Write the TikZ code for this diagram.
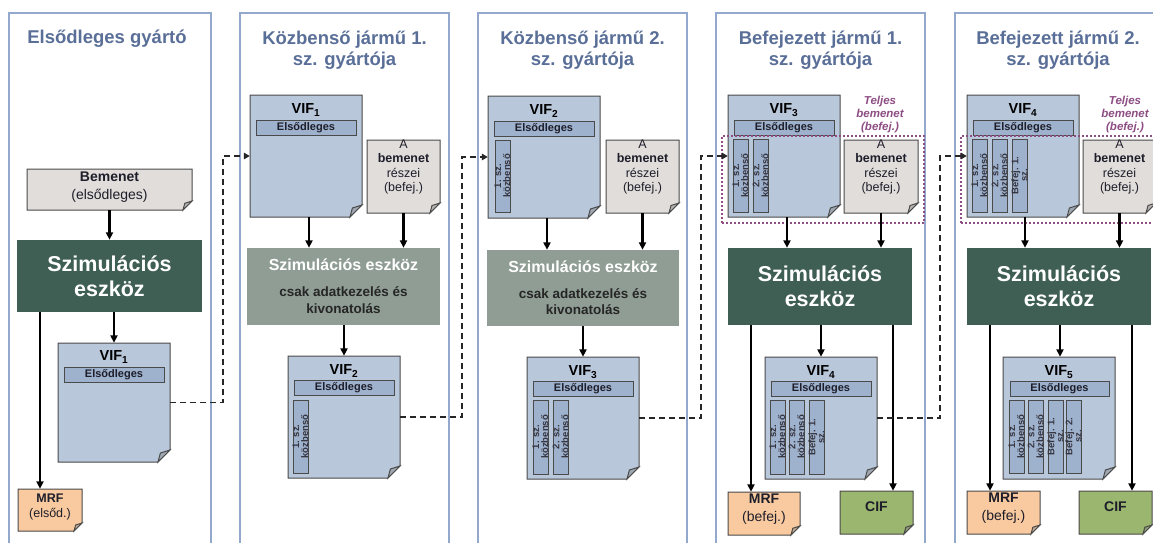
\documentclass[tikz,border=0pt]{standalone}
\usepackage{fontspec}
\setmainfont{Liberation Sans}
\usetikzlibrary{arrows.meta,calc}
\definecolor{framecol}{HTML}{94A8CE}
\definecolor{titlecol}{HTML}{5A6F98}
\definecolor{simdark}{HTML}{3F5F54}
\definecolor{simlight}{HTML}{8F9D94}
\definecolor{vifblue}{HTML}{B9C7DB}
\definecolor{barblue}{HTML}{9EB1CD}
\definecolor{bemgray}{HTML}{E1DDDB}
\definecolor{mrfcol}{HTML}{F9CA9F}
\definecolor{cifcol}{HTML}{9BB66E}
\definecolor{docgray}{HTML}{4A4A4A}
\definecolor{purp}{HTML}{8E4E84}
\definecolor{darktext}{HTML}{1E1E2A}

% document shape with folded corner: name, x1, y1, x2, y2, fill, fold
\newcommand\docnode[7]{%
  \filldraw[docline,fill=#6] (#2,#3) -- (#4,#3) -- (#4,#5-#7) -- (#4-#7,#5) -- (#2,#5) -- cycle;
  \filldraw[docline,fill=#6!55!gray] (#4,#5-#7) -- (#4-0.8*#7,#5-0.75*#7) -- (#4-#7,#5) -- cycle;
  \node[inner sep=0pt,minimum width={(#4-#2)*1pt},minimum height={(#5-#3)*1pt}] (#1) at ({(#2+#4)/2},{(#3+#5)/2}) {};
}
% horizontal "Elsodleges" bar: name, x1, y1, x2
\newcommand\hbarnode[4]{%
  \node[hbarbox,minimum width={(#4-#2)*1pt}] (#1) at ({(#2+#4)/2},{#3+7.5}) {Elsődleges};
}
% vertical bar: name, x1, y1, y2, text
\newcommand\vbarnode[5]{%
  \node[vbarbox,minimum height={(#4-#3)*1pt}] (#1) at ({#2+7.5},{(#3+#4)/2}) {};
  \node[vtext] (#1t) at (#1.center) {#5};
}

\begin{document}
\begin{tikzpicture}[x=1pt,y=-1pt,
  docline/.style={draw=docgray,line width=1pt},
  frame/.style={draw=framecol,line width=1.2pt},
  title/.style={text=titlecol,font=\fontsize{18.5}{21}\selectfont\bfseries,align=center},
  simbig/.style={fill=simdark,text=white,font=\fontsize{21.5}{25}\selectfont\bfseries,align=center,inner sep=0pt},
  simsmall/.style={fill=simlight,inner sep=0pt},
  hbarbox/.style={fill=barblue,draw=docgray,line width=0.9pt,minimum height=15pt,inner sep=0pt,text=darktext,font=\fontsize{11}{12}\selectfont\bfseries},
  vbarbox/.style={fill=barblue,draw=docgray,line width=0.9pt,minimum width=15pt,inner sep=0pt},
  vtext/.style={rotate=90,align=center,inner sep=0pt,text=darktext!90,font=\fontsize{9.5}{9}\selectfont\bfseries},
  viflab/.style={font=\fontsize{14.5}{16}\selectfont\bfseries,text=black},
  doctext/.style={align=center,font=\fontsize{12.5}{14.5}\selectfont,text=darktext},
  arr/.style={line width=2.3pt,-{Triangle[length=7.5pt,width=7pt]}},
  dashconn/.style={line width=1.9pt,draw=black!85,dash pattern=on 6pt off 4pt,-{Triangle[length=6pt,width=6.5pt]}},
  grp/.style={draw=purp,line width=2.4pt,dash pattern=on 2pt off 2pt,inner sep=0pt},
  grptext/.style={text=purp,align=center,font=\fontsize{11.5}{13}\selectfont\bfseries\itshape}
]
\useasboundingbox (0,0) rectangle (1153,542);
\fill[white] (0,0) rectangle (1153,542);

% ---------- frames and titles ----------
\draw[frame] (9,13) rectangle (211,560);
\draw[frame] (240,13) rectangle (449,560);
\draw[frame] (478,13) rectangle (687,560);
\draw[frame] (716,13) rectangle (925,560);
\draw[frame] (955,13) rectangle (1175,560);
\node[title] (t1) at (107,39) {Elsődleges gyártó};
\node[title] (t2) at (344.5,50) {Közbenső jármű 1.\\sz. gyártója};
\node[title] (t3) at (582.5,50) {Közbenső jármű 2.\\sz. gyártója};
\node[title] (t4) at (820.5,50) {Befejezett jármű 1.\\sz. gyártója};
\node[title] (t5) at (1058,50) {Befejezett jármű 2.\\sz. gyártója};

% ---------- column 1 ----------
\docnode{bem1}{27}{169}{192}{210}{bemgray}{9}
\node[doctext,font=\fontsize{14}{18}\selectfont] (bem1t) at (109.5,187) {\textbf{Bemenet}\\(elsődleges)};
\node[simbig,minimum width=185pt,minimum height=72pt] (sim1) at (109.5,276) {Szimulációs\\eszköz};
\docnode{vif1a}{58}{343}{170}{462}{vifblue}{12}
\node[viflab] (vif1al) at (114,357) {VIF\textsubscript{1}};
\hbarnode{vif1ab}{64}{367}{164}
\docnode{mrf1}{18}{489}{82}{531}{mrfcol}{8}
\node[doctext] (mrf1t) at (50,507) {\textbf{MRF}\\(elsőd.)};
\draw[arr] (bem1.south) -- (bem1.south |- sim1.north);
\draw[arr] (vif1a.north |- sim1.south) -- (vif1a.north);
\draw[arr] ([xshift=-10pt]mrf1.north |- sim1.south) -- ([xshift=-10pt]mrf1.north);

% ---------- column 2 ----------
\docnode{vif1b}{250}{95}{362}{217}{vifblue}{12}
\node[viflab] (vif1bl) at (306,110) {VIF\textsubscript{1}};
\hbarnode{vif1bb}{256}{120}{356}
\docnode{abem2}{367}{140}{440}{213}{bemgray}{10}
\node[doctext] (abem2t) at (403.5,167) {A\\\textbf{bemenet}\\részei\\(befej.)};
\node[simsmall,minimum width=193pt,minimum height=77pt] (sim2) at (343.5,286.5) {};
\node[text=white,font=\fontsize{16}{18}\selectfont\bfseries] (sim2a) at (343.5,265) {Szimulációs eszköz};
\node[align=center,text=black!85,font=\fontsize{13.5}{16.5}\selectfont\bfseries] (sim2b) at (343.5,300) {csak adatkezelés és\\kivonatolás};
\docnode{vif2b}{288}{356}{400}{478}{vifblue}{12}
\node[viflab] (vif2bl) at (344,371) {VIF\textsubscript{2}};
\hbarnode{vif2bb}{294}{380}{394}
\vbarnode{vif2bv1}{293}{400}{473}{1. sz.\\közbenső}
\draw[arr] ([xshift=3pt]vif1b.south) -- ([xshift=3pt]vif1b.south |- sim2.north);
\draw[arr] (abem2.south) -- (abem2.south |- sim2.north);
\draw[arr] (vif2b.north |- sim2.south) -- (vif2b.north);

% ---------- column 3 ----------
\docnode{vif2c}{488}{96}{600}{218}{vifblue}{12}
\node[viflab] (vif2cl) at (544,111) {VIF\textsubscript{2}};
\hbarnode{vif2cb}{494}{121}{594}
\vbarnode{vif2cv1}{495}{140}{212}{1. sz.\\közbenső}
\docnode{abem3}{606}{140}{679}{213}{bemgray}{10}
\node[doctext] (abem3t) at (642.5,167) {A\\\textbf{bemenet}\\részei\\(befej.)};
\node[simsmall,minimum width=192pt,minimum height=76pt] (sim3) at (583,288) {};
\node[text=white,font=\fontsize{16}{18}\selectfont\bfseries] (sim3a) at (583,266.5) {Szimulációs eszköz};
\node[align=center,text=black!85,font=\fontsize{13.5}{16.5}\selectfont\bfseries] (sim3b) at (583,301.5) {csak adatkezelés és\\kivonatolás};
\docnode{vif3c}{527}{357}{639}{479}{vifblue}{12}
\node[viflab] (vif3cl) at (583,372) {VIF\textsubscript{3}};
\hbarnode{vif3cb}{533}{381}{633}
\vbarnode{vif3cv1}{533}{400}{474}{1. sz.\\közbenső}
\vbarnode{vif3cv2}{553}{400}{474}{2. sz.\\közbenső}
\draw[arr] ([xshift=3pt]vif2c.south) -- ([xshift=3pt]vif2c.south |- sim3.north);
\draw[arr] (abem3.south) -- (abem3.south |- sim3.north);
\draw[arr] (vif3c.north |- sim3.south) -- (vif3c.north);

% ---------- column 4 ----------
\docnode{vif3d}{728}{95}{840}{217}{vifblue}{12}
\node[viflab] (vif3dl) at (784,110) {VIF\textsubscript{3}};
\hbarnode{vif3db}{734}{120}{834}
\vbarnode{vif3dv1}{733}{139}{212}{1. sz.\\közbenső}
\vbarnode{vif3dv2}{753}{139}{212}{2. sz.\\közbenső}
\docnode{abem4}{844}{140}{918}{213}{bemgray}{10}
\node[doctext] (abem4t) at (881,167) {A\\\textbf{bemenet}\\részei\\(befej.)};
\node[grp,minimum width=202pt,minimum height=87pt] (grp4) at (823,179.5) {};
\node[grptext] (grp4t) at (880,115) {Teljes\\bemenet\\(befej.)};
\node[simbig,minimum width=184pt,minimum height=77pt] (sim4) at (820,286.5) {Szimulációs\\eszköz};
\docnode{vif4d}{765}{357}{877}{479}{vifblue}{12}
\node[viflab] (vif4dl) at (821,372) {VIF\textsubscript{4}};
\hbarnode{vif4db}{771}{381}{871}
\vbarnode{vif4dv1}{770}{400}{474}{1. sz.\\közbenső}
\vbarnode{vif4dv2}{789}{400}{474}{2. sz.\\közbenső}
\vbarnode{vif4dv3}{809}{400}{474}{Befej. 1.\\sz.}
\docnode{mrf4}{728}{492}{800}{535}{mrfcol}{9}
\node[doctext,font=\fontsize{14}{18}\selectfont] (mrf4t) at (764,509) {\textbf{MRF}\\(befej.)};
\docnode{cif4}{840}{491}{913}{534}{cifcol}{9}
\node[font=\fontsize{14}{16}\selectfont\bfseries,text=darktext] (cif4t) at (876.5,507) {CIF};
\draw[arr] ([xshift=3pt]vif3d.south) -- ([xshift=3pt]vif3d.south |- sim4.north);
\draw[arr] (abem4.south) -- (abem4.south |- sim4.north);
\draw[arr] (vif4d.north |- sim4.south) -- (vif4d.north);
\draw[arr] ([xshift=-13pt]mrf4.north |- sim4.south) -- ([xshift=-13pt]mrf4.north);
\draw[arr] ([xshift=16.5pt]cif4.north |- sim4.south) -- ([xshift=16.5pt]cif4.north);

% ---------- column 5 ----------
\docnode{vif4e}{967}{95}{1079}{217}{vifblue}{12}
\node[viflab] (vif4el) at (1023,110) {VIF\textsubscript{4}};
\hbarnode{vif4eb}{973}{120}{1073}
\vbarnode{vif4ev1}{972}{139}{212}{1. sz.\\közbenső}
\vbarnode{vif4ev2}{992}{139}{212}{2. sz.\\közbenső}
\vbarnode{vif4ev3}{1012}{139}{212}{Befej. 1.\\sz.}
\docnode{abem5}{1083}{140}{1156}{213}{bemgray}{10}
\node[doctext] (abem5t) at (1119.5,167) {A\\\textbf{bemenet}\\részei\\(befej.)};
\node[grp,minimum width=204pt,minimum height=87pt] (grp5) at (1063,179.5) {};
\node[grptext] (grp5t) at (1125,115) {Teljes\\bemenet\\(befej.)};
\node[simbig,minimum width=184pt,minimum height=77pt] (sim5) at (1059,286.5) {Szimulációs\\eszköz};
\docnode{vif5e}{1003}{357}{1115}{479}{vifblue}{12}
\node[viflab] (vif5el) at (1059,372) {VIF\textsubscript{5}};
\hbarnode{vif5eb}{1010}{381}{1109}
\vbarnode{vif5ev1}{1009}{400}{473}{1. sz.\\közbenső}
\vbarnode{vif5ev2}{1028}{400}{473}{2. sz.\\közbenső}
\vbarnode{vif5ev3}{1048}{400}{473}{Befej. 1.\\sz.}
\vbarnode{vif5ev4}{1066}{400}{473}{Befej. 2.\\sz.}
\docnode{mrf5}{967}{491}{1040}{534}{mrfcol}{9}
\node[doctext,font=\fontsize{14}{18}\selectfont] (mrf5t) at (1003.5,508) {\textbf{MRF}\\(befej.)};
\docnode{cif5}{1079}{491}{1152}{534}{cifcol}{9}
\node[font=\fontsize{14}{16}\selectfont\bfseries,text=darktext] (cif5t) at (1115.5,507) {CIF};
\draw[arr] ([xshift=2pt]vif4e.south) -- ([xshift=2pt]vif4e.south |- sim5.north);
\draw[arr] (abem5.south) -- (abem5.south |- sim5.north);
\draw[arr] ([xshift=1pt]vif5e.north |- sim5.south) -- ([xshift=1pt]vif5e.north);
\draw[arr] ([xshift=-13.5pt]mrf5.north |- sim5.south) -- ([xshift=-13.5pt]mrf5.north);
\draw[arr] ([xshift=16.5pt]cif5.north |- sim5.south) -- ([xshift=16.5pt]cif5.north);

% ---------- dashed hand-over connectors ----------
\coordinate (k1) at (223,0);
\coordinate (k2) at (462,0);
\coordinate (k3) at (701,0);
\coordinate (k4) at (940,0);
\draw[dashconn] (vif1a.east) -| (k1 |- vif1b.west) -- (vif1b.west);
\draw[dashconn] (vif2b.east) -| (k2 |- vif2c.west) -- (vif2c.west);
\draw[dashconn] (vif3c.east) -| (k3 |- vif3d.west) -- (vif3d.west);
\draw[dashconn] (vif4d.east) -| (k4 |- vif4e.west) -- (vif4e.west);
\end{tikzpicture}
\end{document}
